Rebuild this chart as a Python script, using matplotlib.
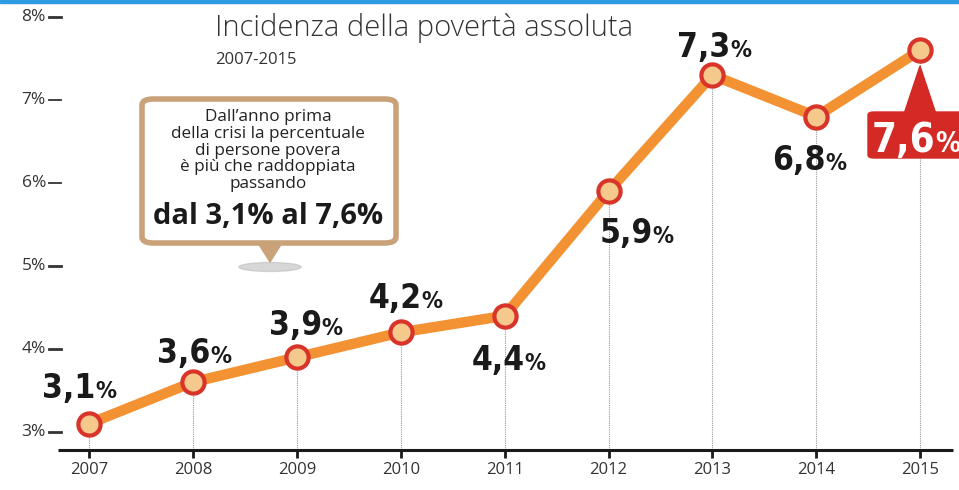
import matplotlib.pyplot as plt
from matplotlib import font_manager
from matplotlib.patches import FancyBboxPatch, Polygon, Ellipse, Rectangle

years = [2007, 2008, 2009, 2010, 2011, 2012, 2013, 2014, 2015]
values = [3.1, 3.6, 3.9, 4.2, 4.4, 5.9, 7.3, 6.8, 7.6]
labels = ['3,1', '3,6', '3,9', '4,2', '4,4', '5,9', '7,3', '6,8', '7,6']
yticks = [3, 4, 5, 6, 7, 8]
# label offsets in pixels (number/percent boundary, baseline) from each point
offsets = [(6, 26), (17, 19), (25, 22), (21, 24), (20, -54), (44, -52), (18, 18), (9, -53), (15, -102)]

W, H = 959, 490
ORANGE = '#F39233'
RED = '#D8342A'
TXT_FONT = ['Open Sans', 'DejaVu Sans']

installed = {f.name for f in font_manager.fontManager.ttflist}
if 'Liberation Sans Narrow' in installed:
    NUM_FONT = dict(family=['Liberation Sans Narrow'], fontsize=28)
else:
    NUM_FONT = dict(family=['DejaVu Sans'], stretch='condensed', fontsize=24)

fig = plt.figure(figsize=(W / 100, H / 100), dpi=100)
ax = fig.add_axes([0, 0, 1, 1])
ax.axis('off')
# 2007 at x=89px, 103.9 px per year; 3% at y=432px, 83 px per point
ax.set_xlim(2007 - 89 / 103.9, 2007 + (W - 89) / 103.9)
ax.set_ylim(3 - (H - 432) / 83, 3 + 432 / 83)
base = 3 - 18 / 83


def px(x, y):
    return (x / W, 1 - y / H)


# blue strip on top
ax.add_patch(Rectangle(px(0, 3), 1, 3 / H, transform=fig.transFigure,
                       color='#2E9BE0', zorder=0, clip_on=False))

# axis line, ticks, year labels
ax.plot([2006.70, 2015.32], [base, base], color='#1a1a1a', lw=2.2, solid_capstyle='butt', zorder=2)
ax.vlines(years, base - 8 / 83, base, color='#1a1a1a', lw=2)
for yr in years:
    ax.text(yr, base - 20 / 83, str(yr), ha='center', va='center', fontsize=12,
            color='#333333', family=TXT_FONT)

# y labels
for t in yticks:
    ax.text(46 / W, t, f'{t}%', transform=ax.get_yaxis_transform(), ha='right', va='center',
            fontsize=12.5, color='#333333', family=TXT_FONT)
    ax.plot([49 / W, 61 / W], [t, t], transform=ax.get_yaxis_transform(), color='#333333',
            lw=2 if t in (3, 4, 5, 8) else 1.3)

# thin dotted drop lines
ax.vlines(years, base, values, color='#999999', lw=0.8, linestyles=(0, (1, 1)), zorder=1)

# line and markers
ax.plot(years, values, color=ORANGE, lw=7.5, zorder=3, solid_joinstyle='round')
ax.plot(years, values, 'o', ms=16, mfc='#F5C88C', mec=RED, mew=3, zorder=5)

# red flag for the last value
ax.add_patch(Polygon([px(904, 114), px(936, 114), px(920, 66)], closed=True,
                     transform=fig.transFigure, color='#D42A26', zorder=4, clip_on=False))
ax.add_patch(FancyBboxPatch(px(868, 158), (W + 10 - 868) / W, 46 / H,
                            boxstyle='round,pad=0,rounding_size=0.006',
                            transform=fig.transFigure, color='#D42A26', zorder=4, clip_on=False))

# value labels
for i, (yr, v, lab) in enumerate(zip(years, values, labels)):
    dx, dy = offsets[i]
    last = i == len(years) - 1
    col = 'white' if last else '#1a1a1a'
    size = NUM_FONT['fontsize'] * (1.2 if last else 1.0)
    font = dict(NUM_FONT, fontsize=size)
    ax.annotate(lab, (yr, v), xytext=(dx, dy), textcoords='offset pixels', ha='right',
                va='baseline', fontweight='bold', color=col, zorder=6, **font)
    pct = dict(NUM_FONT, fontsize=size * 0.7)
    ax.annotate('%', (yr, v), xytext=(dx, dy), textcoords='offset pixels', ha='left',
                va='baseline', fontweight='bold', color=col, zorder=6, **pct)

# title
fig.text(*px(215, 28), 'Incidenza della povertà assoluta', ha='left', va='center',
         fontsize=21, fontweight='light', color='#333333', family=TXT_FONT)
fig.text(*px(215, 60), '2007-2015', ha='left', va='center', fontsize=12,
         color='#333333', family=TXT_FONT)

# callout box
fig.patches.append(Ellipse(px(270, 267), 62 / W, 9 / H, transform=fig.transFigure,
                           color='#bdbdbd', alpha=0.6, zorder=1))
fig.patches.append(Polygon([px(258, 243), px(282, 243), px(270, 262)], closed=True,
                           transform=fig.transFigure, color='#C9A27A', zorder=2))
fig.patches.append(FancyBboxPatch(px(142, 243), 254 / W, 144 / H,
                                  boxstyle='round,pad=0,rounding_size=0.012',
                                  transform=fig.transFigure, fc='white', ec='#C9A27A', lw=4, zorder=2))
lines = ['Dall\u2019anno prima', 'della crisi la percentuale', 'di persone povera',
         'è più che raddoppiata', 'passando']
for k, ln in enumerate(lines):
    fig.text(*px(268, 117 + k * 16.8), ln, ha='center', va='center', fontsize=12.3,
             color='#222222', family=TXT_FONT, zorder=3)
fig.text(*px(268, 217), 'dal 3,1% al 7,6%', ha='center', va='center', fontsize=21,
         fontweight='bold', color='#1a1a1a', family=TXT_FONT, zorder=3)

fig.savefig('out.png', dpi=100, facecolor='white')
